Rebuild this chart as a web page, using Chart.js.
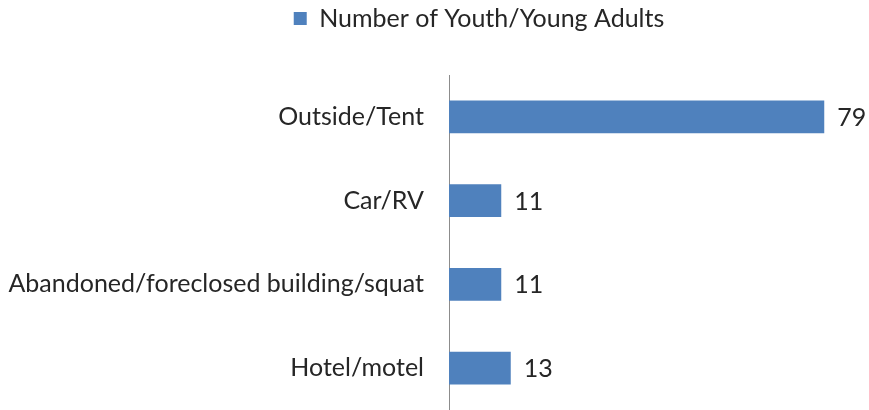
<!DOCTYPE html>
<html>
<head>
<meta charset="utf-8">
<script src="https://cdn.jsdelivr.net/npm/chart.js@4"></script>
<style>
  html, body { margin: 0; padding: 0; background: #fff; }
  canvas { display: block; }
</style>
</head>
<body>
<canvas id="shelterChart" width="869" height="410"></canvas>
<script>
const categories = ['Outside/Tent', 'Car/RV', 'Abandoned/foreclosed building/squat', 'Hotel/motel'];
const youthCounts = [79, 11, 11, 13];
const seriesName = 'Number of Youth/Young Adults';

const FONT = 'Lato, "Liberation Sans", sans-serif';
const TEXT = '#262626';

// draws the value next to each bar
const valueLabels = {
    id: 'valueLabels',
    afterDatasetsDraw(chart) {
        const ctx = chart.ctx;
        ctx.save();
        ctx.font = '25px ' + FONT;
        ctx.fillStyle = TEXT;
        ctx.textBaseline = 'middle';
        chart.getDatasetMeta(0).data.forEach((bar, i) => {
            ctx.fillText(chart.data.datasets[0].data[i], bar.x + 13, bar.y + 1);
        });
        ctx.restore();
    }
};

// extra space under the legend, and legend centred a bit to the right
const legendGap = {
    id: 'legendGap',
    beforeInit(chart) {
        const fit = chart.legend.fit;
        chart.legend.fit = function () {
            fit.call(this);
            this.height += 34;
        };
    },
    afterLayout(chart) {
        chart.legend.left = 129;
    }
};

document.addEventListener('DOMContentLoaded', () => {
    const ctx = document.getElementById('shelterChart').getContext('2d');

    new Chart(ctx, {
        type: 'bar',
        data: {
            labels: categories,
            datasets: [{
                label: seriesName,
                data: youthCounts,
                backgroundColor: '#4F81BD',
                borderColor: '#4F81BD',
                borderWidth: 0,
                categoryPercentage: 1,
                barPercentage: 0.39
            }]
        },
        options: {
            indexAxis: 'y',
            responsive: false,
            animation: false,
            layout: { padding: { left: 0, right: 40, top: 0, bottom: -3 } },
            plugins: {
                legend: {
                    position: 'top',
                    labels: {
                        boxWidth: 13,
                        boxHeight: 13,
                        padding: 6,
                        color: TEXT,
                        font: { family: FONT, size: 25 }
                    }
                },
                tooltip: { enabled: false }
            },
            scales: {
                x: {
                    display: false,
                    min: 0,
                    max: 80
                },
                y: {
                    grid: { display: false, drawTicks: false },
                    border: { display: true, color: '#8C8C8C', width: 1 },
                    ticks: {
                        padding: 25,
                        color: TEXT,
                        font: { family: FONT, size: 25 }
                    },
                    afterFit(scale) {
                        scale.width = 449;
                        scale.paddingTop = 0;
                        scale.paddingBottom = 0;
                    }
                }
            }
        },
        plugins: [valueLabels, legendGap]
    });
});
</script>
</body>
</html>
